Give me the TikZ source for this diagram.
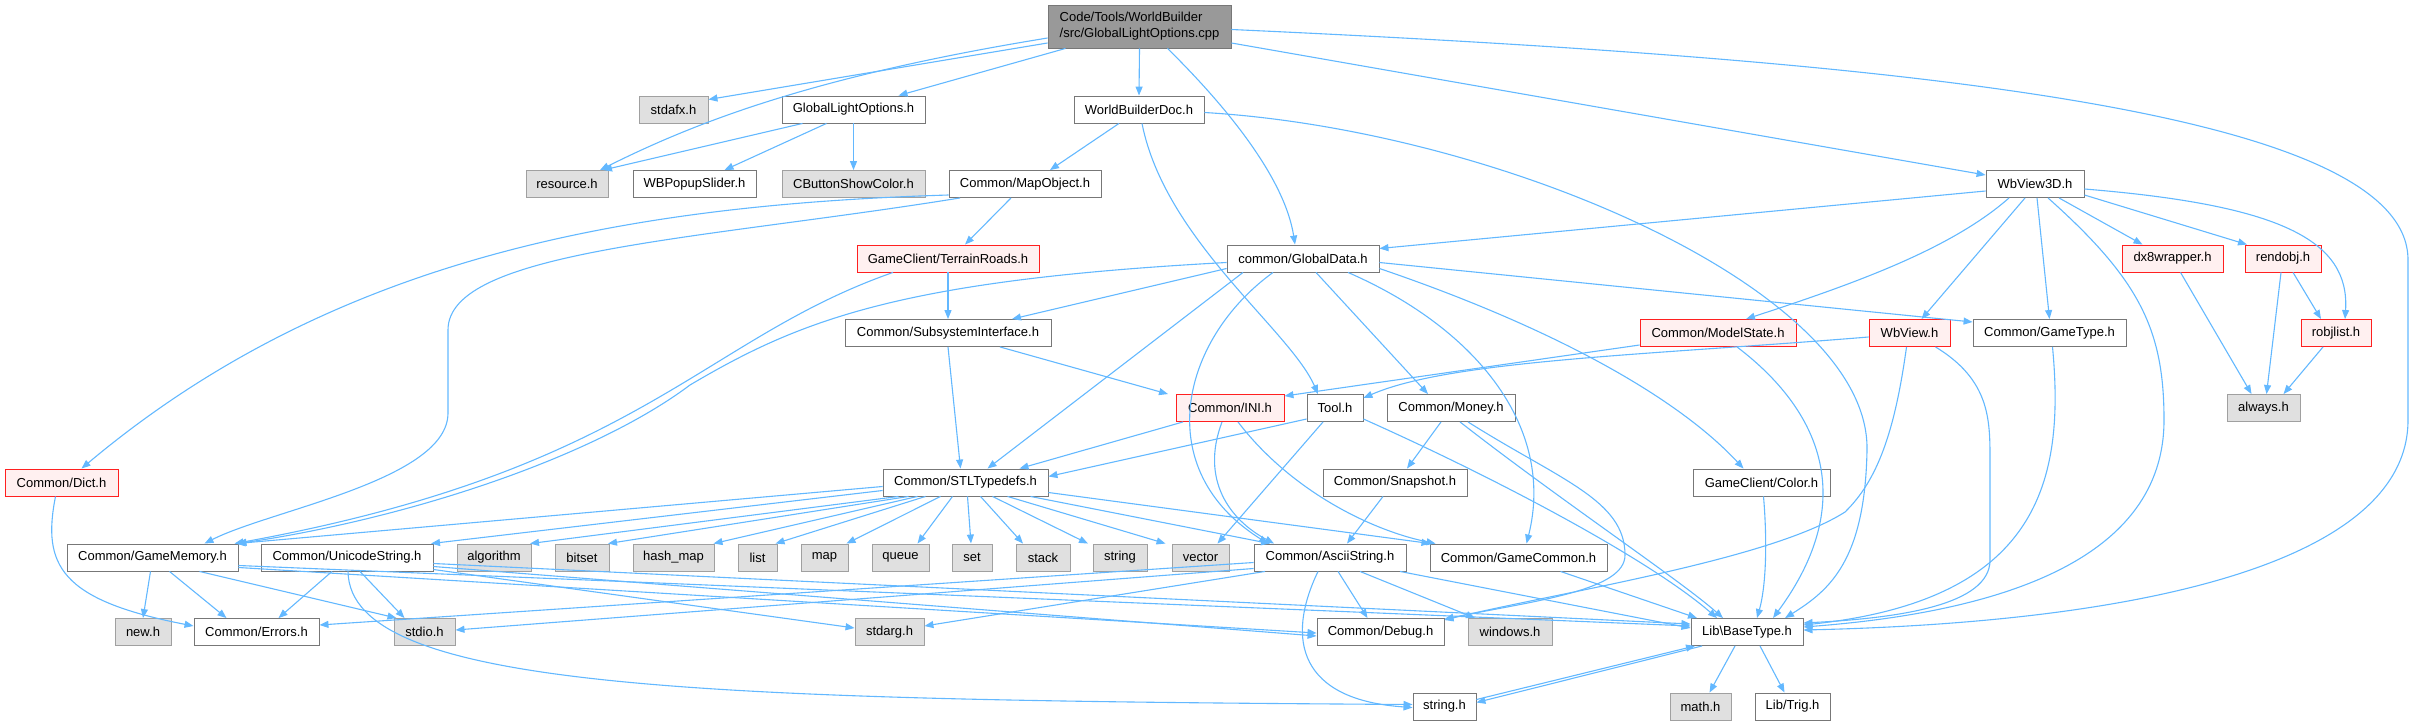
\documentclass[tikz,border=0pt]{standalone}
\usepackage{fontspec}
\setmainfont{Liberation Sans}
\usetikzlibrary{positioning, calc, arrows.meta}

\definecolor{edgeblue}{HTML}{63B8FF}
\definecolor{boxline}{HTML}{777777}
\definecolor{sysline}{HTML}{A0A0A0}
\definecolor{sysfill}{HTML}{E0E0E0}
\definecolor{redfill}{HTML}{FFF0F0}
\definecolor{redline}{HTML}{FF2020}
\definecolor{rootfill}{HTML}{999999}

\begin{document}
\begin{tikzpicture}[x=1pt, y=-1pt, >={Triangle[length=9pt,width=7pt]},
    box/.style={draw=boxline, fill=white, line width=0.9pt, minimum height=27pt,
        inner sep=0pt, font=\fontsize{13}{16}\selectfont},
    sysbox/.style={box, draw=sysline, fill=sysfill},
    redbox/.style={box, draw=redline, fill=redfill},
    rootbox/.style={box, fill=rootfill},
    dep/.style={->, draw=edgeblue, line width=1.1pt}]
    \useasboundingbox (0,0) rectangle (2414,725);

    % files
    \node[rootbox, minimum width=183pt, minimum height=43pt, align=left] (root) at (1139.5,26.5) {Code/Tools/WorldBuilder\\/src/GlobalLightOptions.cpp};

    \node[sysbox, minimum width=69pt]  (stdafx) at (673.5,109.5) {stdafx.h};
    \node[box, minimum width=143pt]    (glo)    at (853.5,109.5) {GlobalLightOptions.h};
    \node[box, minimum width=130pt]    (wbdoc)  at (1139,109.5) {WorldBuilderDoc.h};

    \node[sysbox, minimum width=82pt]  (resource) at (567,184) {resource.h};
    \node[box, minimum width=123pt]    (popup)    at (694.5,184) {WBPopupSlider.h};
    \node[sysbox, minimum width=143pt] (cbsc)     at (853.5,184) {CButtonShowColor.h};
    \node[box, minimum width=152pt]    (mapobj)   at (1025,184) {Common/MapObject.h};
    \node[box, minimum width=98pt]     (wb3d)     at (2035,184) {WbView3D.h};

    \node[redbox, minimum width=182pt] (roads)   at (948,258.5) {GameClient/TerrainRoads.h};
    \node[box, minimum width=152pt]    (gdata)   at (1303,258.5) {common/GlobalData.h};
    \node[redbox, minimum width=101pt] (dx8)     at (2172.5,258.5) {dx8wrapper.h};
    \node[redbox, minimum width=76pt]  (rendobj) at (2283,258.5) {rendobj.h};

    \node[box, minimum width=206pt]    (subsys)   at (948,333) {Common/SubsystemInterface.h};
    \node[redbox, minimum width=156pt] (mstate)   at (1718,333) {Common/ModelState.h};
    \node[redbox, minimum width=81pt]  (wbview)   at (1909.5,333) {WbView.h};
    \node[box, minimum width=153pt]    (gtype)    at (2049.5,333) {Common/GameType.h};
    \node[redbox, minimum width=70pt]  (robjlist) at (2336,333) {robjlist.h};

    \node[redbox, minimum width=108pt] (ini)    at (1230,408) {Common/INI.h};
    \node[box, minimum width=56pt]     (tool)   at (1335,408) {Tool.h};
    \node[box, minimum width=128pt]    (money)  at (1451,408) {Common/Money.h};
    \node[sysbox, minimum width=73pt]  (always) at (2263.5,408) {always.h};

    \node[redbox, minimum width=113pt] (dict)  at (61.5,482.5) {Common/Dict.h};
    \node[box, minimum width=165pt]    (stl)   at (965.5,482.5) {Common/STLTypedefs.h};
    \node[box, minimum width=144pt]    (snap)  at (1395,482.5) {Common/Snapshot.h};
    \node[box, minimum width=137pt]    (color) at (1761.5,482.5) {GameClient/Color.h};

    \node[box, minimum width=171pt]    (gmem)      at (152.5,557.5) {Common/GameMemory.h};
    \node[box, minimum width=172pt]    (ustr)      at (347,557.5) {Common/UnicodeString.h};
    \node[sysbox, minimum width=74pt]  (algorithm) at (494,557.5) {algorithm};
    \node[sysbox, minimum width=54pt]  (bitset)    at (582,557.5) {bitset};
    \node[sysbox, minimum width=81pt]  (hashmap)   at (673.5,557.5) {hash\_map};
    \node[sysbox, minimum width=39pt]  (list)      at (757.5,557.5) {list};
    \node[sysbox, minimum width=47pt]  (map)       at (824.5,557.5) {map};
    \node[sysbox, minimum width=57pt]  (queue)     at (900.5,557.5) {queue};
    \node[sysbox, minimum width=40pt]  (set)       at (972,557.5) {set};
    \node[sysbox, minimum width=54pt]  (stack)     at (1043,557.5) {stack};
    \node[sysbox, minimum width=54pt]  (string)    at (1120,557.5) {string};
    \node[sysbox, minimum width=57pt]  (vector)    at (1200.5,557.5) {vector};
    \node[box, minimum width=152pt]    (astr)      at (1330,557.5) {Common/AsciiString.h};
    \node[box, minimum width=177pt]    (gcommon)   at (1518.5,557.5) {Common/GameCommon.h};

    \node[sysbox, minimum width=56pt]  (newh)     at (143,632) {new.h};
    \node[box, minimum width=125pt]    (errors)   at (256.5,632) {Common/Errors.h};
    \node[sysbox, minimum width=61pt]  (stdio)    at (424.5,632) {stdio.h};
    \node[sysbox, minimum width=69pt]  (stdarg)   at (889.5,632) {stdarg.h};
    \node[box, minimum width=127pt]    (debug)    at (1380.5,632) {Common/Debug.h};
    \node[sysbox, minimum width=84pt]  (windows)  at (1510,632) {windows.h};
    \node[box, minimum width=112pt]    (basetype) at (1747,632) {Lib\textbackslash BaseType.h};

    \node[box, minimum width=63pt]     (stringh) at (1444.5,706.5) {string.h};
    \node[sysbox, minimum width=61pt]  (mathh)   at (1700.5,706.5) {math.h};
    \node[box, minimum width=75pt]     (trig)    at (1792.5,706.5) {Lib/Trig.h};

    % includes of the .cpp
    \draw[dep] ([yshift=-16.5pt]root.west) -- ([yshift=10pt]stdafx.east);
    \draw[dep] ([yshift=-11.5pt]root.west) .. controls (820,75) and (700,120) .. ([xshift=33pt]resource.north);
    \draw[dep] ([xshift=-74pt]root.south) -- ([xshift=45pt]glo.north);
    \draw[dep] (root.south) -- (wbdoc.north);
    \draw[dep] ([xshift=28pt]root.south) .. controls (1230,110) and (1285,180) .. ([xshift=-8pt]gdata.north);
    \draw[dep] ([yshift=-16.5pt]root.east) -- ([yshift=9pt]wb3d.west);
    \draw[dep] ([yshift=-3pt]root.east) .. controls (1900,60) and (2408,110) .. (2408,260)
        -- (2408,420) .. controls (2408,560) and (2150,622) .. ([yshift=2pt]basetype.east);

    \draw[dep] ([xshift=-51pt]glo.south) -- ([xshift=36pt]resource.north);
    \draw[dep] ([xshift=-27pt]glo.south) -- ([xshift=30pt]popup.north);
    \draw[dep] (glo.south) -- (cbsc.north);

    \draw[dep] ([xshift=-20pt]wbdoc.south) -- ([xshift=25pt]mapobj.north);
    \draw[dep] ([xshift=3pt]wbdoc.south) .. controls (1165,240) and (1290,330) .. ([xshift=-17pt]tool.north);
    \draw[dep] ([yshift=-3pt]wbdoc.east) .. controls (1500,130) and (1870,290) .. (1867,450)
        .. controls (1865,560) and (1830,590) .. ([xshift=38pt]basetype.north);

    \draw[dep] ([xshift=-14pt]mapobj.south) -- ([xshift=17pt]roads.north);
    \draw[dep] ([yshift=-11pt]mapobj.west) .. controls (620,205) and (330,260) .. ([xshift=20pt]dict.north);
    \draw[dep] ([xshift=-65pt]mapobj.south) .. controls (700,240) and (448,250) .. (448,330)
        -- (448,413) .. controls (448,480) and (270,510) .. ([xshift=52pt]gmem.north);

    \draw[dep] (roads.south) -- (subsys.north);
    \draw[dep] ([xshift=-55pt]roads.south) .. controls (700,340) and (640,470) .. ([xshift=82pt]gmem.north);

    % common/GlobalData.h
    \draw[dep] ([yshift=-4pt]gdata.west) .. controls (900,280) and (800,320) .. (690,385)
        .. controls (590,460) and (400,520) .. ([xshift=85pt]gmem.north);
    \draw[dep] ([yshift=-10pt]gdata.west) -- ([xshift=64pt]subsys.north);
    \draw[dep] ([xshift=-60pt]gdata.south) -- ([xshift=22pt]stl.north);
    \draw[dep] ([xshift=-30pt]gdata.south) .. controls (1180,340) and (1150,470) .. ([xshift=-62pt]astr.north);
    \draw[dep] ([xshift=13pt]gdata.south) -- ([xshift=-23pt]money.north);
    \draw[dep] ([xshift=45pt]gdata.south) .. controls (1480,330) and (1555,430) .. ([xshift=8pt]gcommon.north);
    \draw[dep] ([yshift=-10pt]gdata.east) .. controls (1560,330) and (1680,400) .. ([xshift=-18pt]color.north);
    \draw[dep] ([yshift=-4pt]gdata.east) -- ([yshift=11pt]gtype.west);

    \draw[dep] (subsys.south) -- ([xshift=-5pt]stl.north);
    \draw[dep] ([xshift=52pt]subsys.south) -- ([xshift=-62pt]ini.north);

    % WbView3D.h
    \draw[dep] ([yshift=-7pt]wb3d.west) -- ([yshift=10pt]gdata.east);
    \draw[dep] ([xshift=-26pt]wb3d.south) .. controls (1950,250) and (1850,285) .. ([xshift=28pt]mstate.north);
    \draw[dep] ([xshift=-10pt]wb3d.south) -- ([xshift=12pt]wbview.north);
    \draw[dep] ([xshift=2pt]wb3d.south) -- (gtype.north);
    \draw[dep] ([xshift=13pt]wb3d.south) .. controls (2140,280) and (2164,330) .. (2164,420)
        .. controls (2164,560) and (2000,612) .. ([yshift=5pt]basetype.east);
    \draw[dep] ([xshift=24pt]wb3d.south) -- ([xshift=-30pt]dx8.north);
    \draw[dep] ([yshift=-11pt]wb3d.east) -- ([xshift=-36pt]rendobj.north);
    \draw[dep] ([yshift=-5pt]wb3d.east) .. controls (2280,205) and (2350,240) .. ([xshift=9pt]robjlist.north);

    \draw[dep] ([xshift=8pt]dx8.south) -- ([xshift=-12pt]always.north);
    \draw[dep] ([xshift=-2pt]rendobj.south) -- ([xshift=3pt]always.north);
    \draw[dep] ([xshift=10pt]rendobj.south) -- ([xshift=-15pt]robjlist.north);
    \draw[dep] ([xshift=-13pt]robjlist.south) -- ([xshift=20pt]always.north);

    \draw[dep] ([yshift=-12pt]mstate.west) -- ([yshift=12pt]ini.east);
    \draw[dep] ([xshift=19pt]mstate.south) .. controls (1820,410) and (1860,500) .. ([xshift=26pt]basetype.north);

    \draw[dep] ([yshift=-4pt]wbview.west) .. controls (1650,355) and (1450,360) .. ([yshift=10pt]tool.east);
    \draw[dep] ([xshift=-3pt]wbview.south) .. controls (1895,430) and (1878,480) .. (1845,512)
        .. controls (1770,560) and (1560,592) .. ([yshift=12pt]debug.east);
    \draw[dep] ([xshift=26pt]wbview.south) .. controls (1990,380) and (1990,420) .. (1990,460)
        -- (1990,560) .. controls (1990,605) and (1900,618) .. ([yshift=9pt]basetype.east);

    \draw[dep] ([xshift=3pt]gtype.south) .. controls (2065,480) and (2040,600) .. ([yshift=7pt]basetype.east);

    % INI, Tool, Money
    \draw[dep] ([xshift=-47pt]ini.south) -- ([xshift=54pt]stl.north);
    \draw[dep] ([xshift=-8pt]ini.south) .. controls (1200,480) and (1230,520) .. ([xshift=-56pt]astr.north);
    \draw[dep] ([xshift=8pt]ini.south) .. controls (1290,490) and (1370,530) .. ([xshift=-83pt]gcommon.north);

    \draw[dep] ([yshift=-11pt]tool.west) -- ([yshift=6pt]stl.east);
    \draw[dep] ([xshift=-12pt]tool.south) -- ([xshift=17pt]vector.north);
    \draw[dep] ([yshift=-11pt]tool.east) .. controls (1500,480) and (1650,560) .. ([xshift=-30pt]basetype.north);

    \draw[dep] ([xshift=-10pt]money.south) -- ([xshift=12pt]snap.north);
    \draw[dep] ([xshift=9pt]money.south) .. controls (1560,500) and (1680,580) .. ([xshift=-24pt]basetype.north);
    \draw[dep] ([xshift=17pt]money.south) .. controls (1560,480) and (1625,500) .. (1625,555)
        .. controls (1625,590) and (1540,600) .. ([yshift=13pt]debug.east);

    \draw[dep] ([xshift=-12pt]snap.south) -- ([xshift=17pt]astr.north);
    \draw[dep] ([xshift=2pt]color.south) .. controls (1768,550) and (1765,590) .. ([xshift=10pt]basetype.north);

    % Common/STLTypedefs.h
    \draw[dep] ([yshift=-4pt]stl.west) -- ([xshift=84pt]gmem.north);
    \draw[dep] ([yshift=-8pt]stl.west) -- ([xshift=84pt]ustr.north);
    \draw[dep] ([xshift=-67pt]stl.south) -- ([xshift=36pt]algorithm.north);
    \draw[dep] ([xshift=-57pt]stl.south) -- ([xshift=26pt]bitset.north);
    \draw[dep] ([xshift=-48pt]stl.south) -- ([xshift=40pt]hashmap.north);
    \draw[dep] ([xshift=-40pt]stl.south) -- ([xshift=18pt]list.north);
    \draw[dep] ([xshift=-25pt]stl.south) -- ([xshift=22pt]map.north);
    \draw[dep] ([xshift=-13pt]stl.south) -- ([xshift=17pt]queue.north);
    \draw[dep] ([xshift=2pt]stl.south) -- ([xshift=-1pt]set.north);
    \draw[dep] ([xshift=15pt]stl.south) -- ([xshift=-20pt]stack.north);
    \draw[dep] ([xshift=27pt]stl.south) -- ([xshift=-32pt]string.north);
    \draw[dep] ([xshift=42pt]stl.south) -- ([xshift=-35pt]vector.north);
    \draw[dep] ([xshift=65pt]stl.south) -- ([xshift=-60pt]astr.north);
    \draw[dep] ([yshift=-10pt]stl.east) -- ([xshift=-88pt]gcommon.north);

    \draw[dep] ([xshift=-6pt]dict.south) .. controls (42,565) and (60,600) .. ([yshift=6pt]errors.west);

    % Common/GameMemory.h, Common/UnicodeString.h
    \draw[dep] ([xshift=-2pt]gmem.south) -- (newh.north);
    \draw[dep] ([xshift=17pt]gmem.south) -- ([xshift=-30pt]errors.north);
    \draw[dep] ([xshift=47pt]gmem.south) -- ([xshift=-28pt]stdio.north);
    \draw[dep] ([yshift=-10pt]gmem.east) -- ([yshift=-1pt]debug.west);
    \draw[dep] ([yshift=-8pt]gmem.east) -- ([yshift=6pt]basetype.west);

    \draw[dep] ([xshift=-15pt]ustr.south) -- ([xshift=22pt]errors.north);
    \draw[dep] ([xshift=13pt]ustr.south) -- ([xshift=-20pt]stdio.north);
    \draw[dep] ([yshift=-12pt]ustr.east) -- ([yshift=4pt]stdarg.west);
    \draw[dep] ([xshift=1pt]ustr.south) .. controls (350,690) and (700,700) .. ([yshift=2pt]stringh.west);
    \draw[dep] ([yshift=-9pt]ustr.east) -- ([yshift=-4pt]debug.west);
    \draw[dep] ([yshift=-6pt]ustr.east) -- ([yshift=8pt]basetype.west);

    % Common/AsciiString.h
    \draw[dep] ([yshift=-5pt]astr.west) -- ([yshift=7pt]errors.east);
    \draw[dep] ([yshift=-11pt]astr.west) -- ([yshift=2pt]stdio.east);
    \draw[dep] ([xshift=-65pt]astr.south) -- ([yshift=6pt]stdarg.east);
    \draw[dep] ([xshift=-12pt]astr.south) .. controls (1285,640) and (1300,700) .. ([yshift=-1pt]stringh.west);
    \draw[dep] ([xshift=8pt]astr.south) -- ([xshift=-13pt]debug.north);
    \draw[dep] ([xshift=30pt]astr.south) -- ([xshift=-35pt]windows.north);
    \draw[dep] ([xshift=70pt]astr.south) -- ([yshift=4pt]basetype.west);

    \draw[dep] ([xshift=42pt]gcommon.south) -- ([xshift=-50pt]basetype.north);

    % Lib\BaseType.h
    \draw[dep] ([xshift=-12pt]basetype.south) -- ([xshift=9pt]mathh.north);
    \draw[dep] ([xshift=13pt]basetype.south) -- ([xshift=-8pt]trig.north);
    \draw[dep] ([xshift=-45pt]basetype.south) -- ([yshift=4pt]stringh.east);
    \draw[dep] ([yshift=7pt]stringh.east) -- ([xshift=-52pt]basetype.south);
\end{tikzpicture}
\end{document}
